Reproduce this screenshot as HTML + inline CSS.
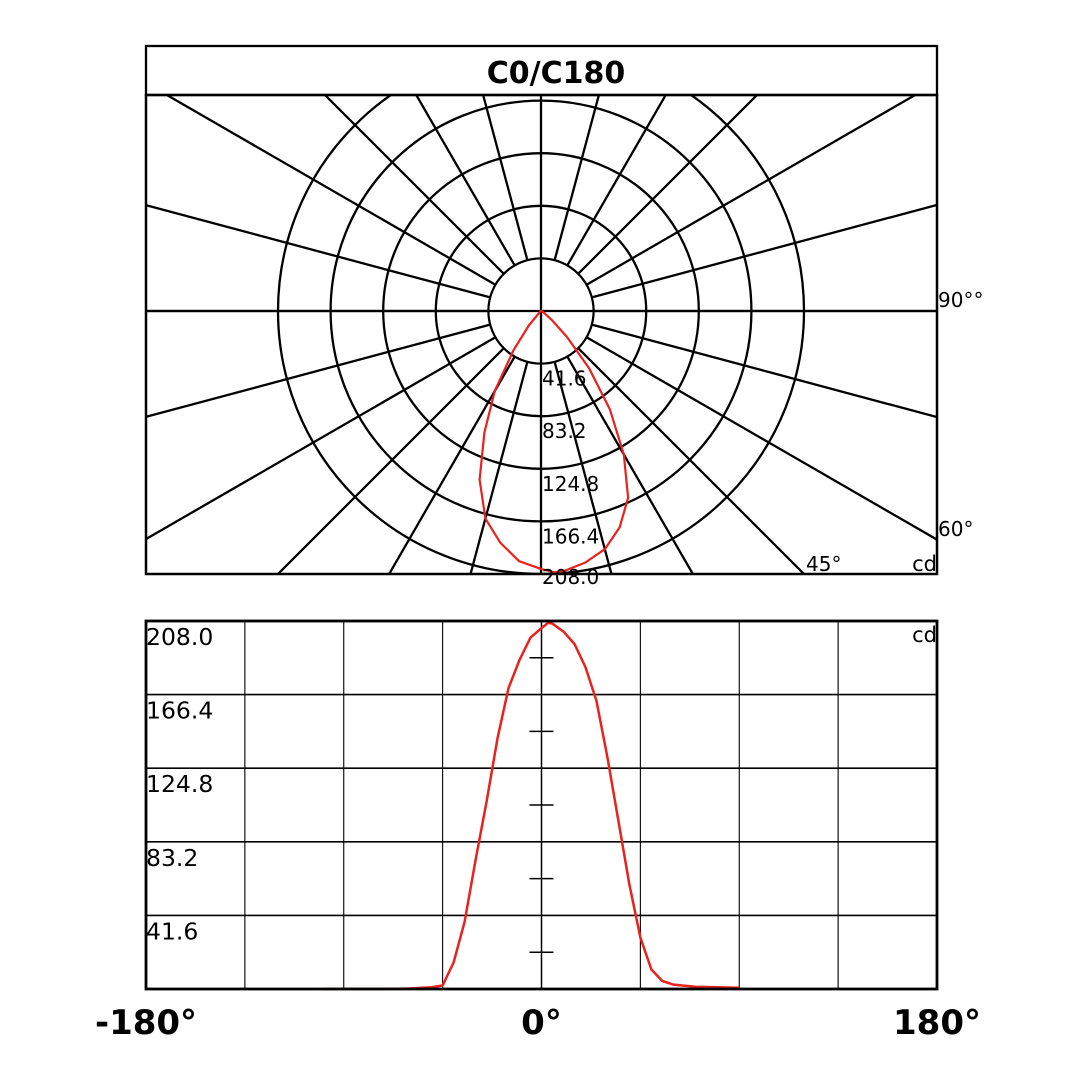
<!DOCTYPE html>
<html><head><meta charset="utf-8"><style>
html,body{margin:0;padding:0;background:#fff;width:1080px;height:1080px;overflow:hidden;}
svg{display:block;font-family:"DejaVu Sans","Liberation Sans",sans-serif;overflow:hidden;}
</style></head><body>
<svg id="chart" width="1080" height="1080" viewBox="0 0 1080 1080">
<rect x="0" y="0" width="1080" height="1080" fill="#fff"/>
<g id="polar"></g>
<g id="linear"></g>
</svg>
<script>
const angles = [-100,-90,-80,-70,-60,-50,-45,-40,-35,-30,-25,-20,-15,-10,-5,0,3,5,10,15,20,25,30,35,40,45,50,55,60,70,80,90];
const intensity = [0,0,0,0,0.3,1,2,15,38,73,106,142,170,186,198.6,204,207,206.5,202,195,182,163,131,95,59,29,11,4.5,2.5,1.3,1,0.7];
const ringLabels = ["41.6","83.2","124.8","166.4","208.0"];
const ringValues = [41.6,83.2,124.8,166.4,208.0];
const spokeAngles = [15,30,45,60,75,90,105,120,135,150,165];
const xTickLabels = ["-180°","0°","180°"];
const xTickValues = [-180,0,180];
const maxVal = 208;

const NS="http://www.w3.org/2000/svg";
function mk(parent,tag,attrs){const e=document.createElementNS(NS,tag);for(const k in attrs)e.setAttribute(k,attrs[k]);parent.appendChild(e);return e;}

// ---------- polar ----------
const P=document.getElementById('polar');
const cx=541, cy=311, R=263;
const rScale=v=>v/maxVal*R;
const clip=mk(P,'clipPath',{id:'pclip'});
mk(clip,'rect',{x:146,y:95,width:791,height:479});
const pg=mk(P,'g',{'clip-path':'url(#pclip)'});


let l=mk(pg,'line',{x1:146,y1:cy,x2:937,y2:cy,stroke:'#000','stroke-width':2.3});


l=mk(pg,'line',{x1:cx,y1:95,x2:cx,y2:574,stroke:'#000','stroke-width':2.3});


const r0=rScale(ringValues[0]);
spokeAngles.forEach(a=>{
  const t=a*Math.PI/180;
  [1,-1].forEach(s=>{
    const dx=Math.sin(t)*s, dy=Math.cos(t);
    const s1=mk(pg,'line',{x1:cx+dx*r0,y1:cy+dy*r0,x2:cx+dx*900,y2:cy+dy*900,stroke:'#000','stroke-width':2.3});
    
    
  });
});
ringValues.forEach(v=>{
  const c=mk(pg,'circle',{cx:cx,cy:cy,r:rScale(v),fill:'none',stroke:'#000','stroke-width':2.3});
  
  
});
const ic=mk(pg,'circle',{cx:cx,cy:cy,r:r0-1.2,fill:'#fff'});


l=mk(pg,'line',{x1:cx-r0,y1:cy,x2:cx+r0,y2:cy,stroke:'#000','stroke-width':2.3});


l=mk(pg,'line',{x1:cx,y1:cy-r0,x2:cx,y2:cy+r0,stroke:'#000','stroke-width':2.3});


let d='';
angles.forEach((a,i)=>{const t=a*Math.PI/180,r=rScale(intensity[i]);d+=(i?'L':'M')+(cx+Math.sin(t)*r).toFixed(1)+' '+(cy+Math.cos(t)*r).toFixed(1);});
d+='Z';
const pc=mk(pg,'path',{d:d,fill:'none',stroke:'#e8221e','stroke-width':2.2,'stroke-linejoin':'round'});


ringValues.forEach((v,i)=>{
  const t=mk(P,'text',{x:cx+1,y:cy+rScale(v)+(i===4?10:22),'font-size':20,fill:'#000'});
  t.textContent=ringLabels[i];
  
  
});
const hb=mk(P,'rect',{x:146,y:46,width:791,height:49,fill:'none',stroke:'#000','stroke-width':2.3});


const pf=mk(P,'rect',{x:146,y:95,width:791,height:479,fill:'none',stroke:'#000','stroke-width':2.5});


let tt=mk(P,'text',{x:556,y:83,'text-anchor':'middle','font-size':30,'font-weight':'bold',fill:'#000'});
tt.textContent='C0/C180';


[[938,307,'90°°','angle-label-90'],[938,536,'60°','angle-label-60'],[806,571,'45°','angle-label-45']].forEach(o=>{
  const t=mk(P,'text',{x:o[0],y:o[1],'font-size':20,fill:'#000'});t.textContent=o[2];
  
  
});
tt=mk(P,'text',{x:937,y:571,'text-anchor':'end','font-size':21,fill:'#000'});tt.textContent='cd';



// ---------- linear ----------
const L=document.getElementById('linear');
const x0=146,x1=937,y0=621,y1=989;
const xs=a=>x0+(a+180)/360*(x1-x0);
const ys=v=>y1-v/maxVal*(y1-y0);
for(let a=-135;a<=135;a+=45){
  const g=mk(L,'line',{x1:xs(a),y1:y0,x2:xs(a),y2:y1,stroke:'#000','stroke-width':a===0?1.5:1.1});
  
  
}
ringValues.slice(0,4).forEach(v=>{
  const g=mk(L,'line',{x1:x0,y1:ys(v),x2:x1,y2:ys(v),stroke:'#000','stroke-width':1.6});
  
  
});
ringValues.forEach(v=>{
  const g=mk(L,'line',{x1:xs(0)-12,y1:ys(v-20.8),x2:xs(0)+12,y2:ys(v-20.8),stroke:'#000','stroke-width':1.5});
  
  
});
ringValues.forEach((v,i)=>{
  const t=mk(L,'text',{x:x0,y:ys(v)+24,'font-size':23.5,fill:'#000'});
  t.textContent=ringLabels[i];
  
  
});
let ld='';
angles.forEach((a,i)=>{ld+=(i?'L':'M')+xs(a).toFixed(1)+' '+ys(intensity[i]).toFixed(1);});
const lc=mk(L,'path',{d:ld,fill:'none',stroke:'#e8221e','stroke-width':2.5,'stroke-linejoin':'round'});


const lf=mk(L,'rect',{x:x0,y:y0,width:x1-x0,height:y1-y0,fill:'none',stroke:'#000','stroke-width':2.8});


tt=mk(L,'text',{x:937,y:642,'text-anchor':'end','font-size':21,fill:'#000'});tt.textContent='cd';


xTickValues.forEach((v,i)=>{
  const t=mk(L,'text',{x:xs(v),y:1034,'text-anchor':'middle','font-size':34,'font-weight':'bold',fill:'#000'});
  t.textContent=xTickLabels[i];
  
  
});
</script>
</body></html>
